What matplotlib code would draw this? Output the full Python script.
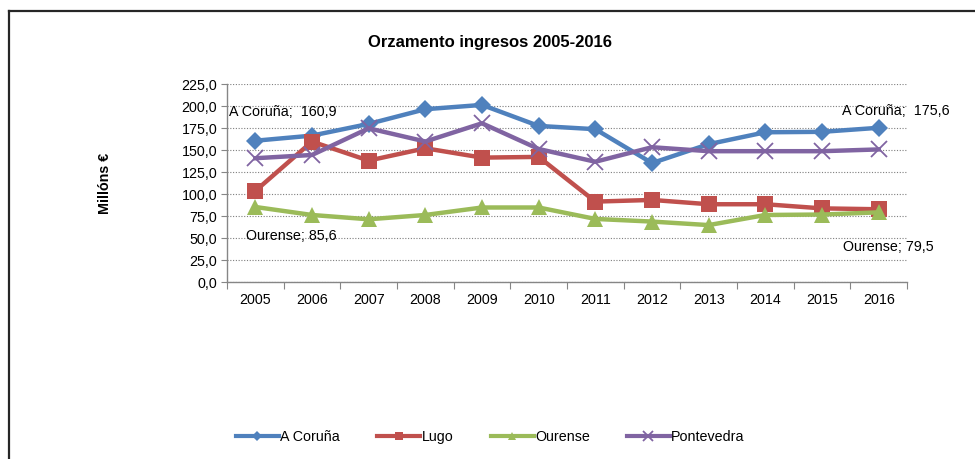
import numpy as np
import matplotlib.pyplot as plt
from matplotlib.lines import Line2D

plt.rcParams['font.family'] = ['Liberation Sans', 'DejaVu Sans']

# Data (millóns €)
years = ['2005', '2006', '2007', '2008', '2009', '2010',
         '2011', '2012', '2013', '2014', '2015', '2016']
coruna = [160.9, 166.7, 180.0, 196.7, 201.6, 177.7, 174.0, 135.5, 157.0, 170.5, 171.0, 175.6]
lugo = [103.8, 159.9, 138.3, 152.3, 141.7, 142.5, 91.7, 93.6, 88.7, 88.7, 84.0, 83.0]
ourense = [85.6, 76.5, 71.6, 76.5, 85.0, 85.0, 72.0, 69.0, 65.0, 76.5, 77.0, 79.5]
pontevedra = [141.0, 144.7, 175.0, 160.0, 180.7, 151.5, 137.0, 153.5, 149.0, 149.0, 149.0, 151.0]

series = ['A Coruña', 'Lugo', 'Ourense', 'Pontevedra']
colors = ['#4F81BD', '#C0504D', '#9BBB59', '#8064A2']
markers = ['D', 's', '^', 'x']
msizes = [9, 11, 11, 12]

fs = 10.3

fig = plt.figure(figsize=(9.75, 4.59), dpi=100)
ax = fig.add_axes([0.2328, 0.385, 0.6975, 0.4313])

x = np.arange(len(years))
handles = []
for vals, name, c, m, ms in zip([coruna, lugo, ourense, pontevedra],
                                series, colors, markers, msizes):
    mew = 1.3 if m == 'x' else 0
    ax.plot(x, vals, color=c, lw=3.2, marker=m, markersize=ms,
            markeredgewidth=mew, markeredgecolor=c, zorder=3)
    handles.append(Line2D([0], [0], color=c, lw=3, marker=m,
                          markersize=ms * 0.55, markeredgewidth=mew,
                          markeredgecolor=c, label=name))

ax.set_xlim(-0.5, len(years) - 0.5)
ax.set_ylim(0, 225)
ax.set_yticks(np.arange(0, 226, 25))
ax.set_yticklabels([f'{v:.1f}'.replace('.', ',') for v in np.arange(0, 226, 25)],
                   fontsize=fs)
ax.set_xticks(np.arange(-0.5, len(years), 1.0))
ax.set_xticklabels([])
ax.set_xticks(x, minor=True)
ax.set_xticklabels(years, minor=True, fontsize=fs)
ax.tick_params(axis='x', which='major', length=5, color='#868686')
ax.tick_params(axis='x', which='minor', length=0, pad=8)
ax.tick_params(axis='y', length=4, color='#868686', pad=3)

ax.yaxis.grid(True, linestyle=(0, (1, 1.5)), color='#7f7f7f', lw=0.8)
ax.set_axisbelow(True)
for s in ['top', 'right']:
    ax.spines[s].set_visible(False)
for s in ['left', 'bottom']:
    ax.spines[s].set_color('#868686')
    ax.spines[s].set_linewidth(1.0)

ax.set_ylabel('Millóns €', fontsize=fs, fontweight='bold', labelpad=50)

# data labels
ax.annotate('A Coruña;  ' + f'{coruna[0]:.1f}'.replace('.', ','), (0, coruna[0]),
            xytext=(20, 21), textcoords='offset points', ha='center', va='center',
            fontsize=fs)
ax.annotate('Ourense; ' + f'{ourense[0]:.1f}'.replace('.', ','), (0, ourense[0]),
            xytext=(26, -21), textcoords='offset points', ha='center', va='center',
            fontsize=fs)
ax.annotate('A Coruña;  ' + f'{coruna[-1]:.1f}'.replace('.', ','), (11, coruna[-1]),
            xytext=(12, 12), textcoords='offset points', ha='center', va='center',
            fontsize=fs)
ax.annotate('Ourense; ' + f'{ourense[-1]:.1f}'.replace('.', ','), (11, ourense[-1]),
            xytext=(7, -25), textcoords='offset points', ha='center', va='center',
            fontsize=fs)

fig.text(0.503, 0.908, 'Orzamento ingresos 2005-2016', ha='center', va='center',
         fontsize=12, fontweight='bold')

fig.legend(handles=handles, loc='center', bbox_to_anchor=(0.503, 0.048), ncol=4,
           frameon=False, fontsize=fs, handlelength=3.0, handletextpad=0.1,
           columnspacing=2.6)

# chart frame (left and top edges visible)
fig.add_artist(Line2D([0.0092, 0.0092], [0, 0.9765], color='#262626', lw=1.6,
                      transform=fig.transFigure))
fig.add_artist(Line2D([0.0092, 1.0], [0.9765, 0.9765], color='#262626', lw=1.6,
                      transform=fig.transFigure))

fig.savefig('out.png', dpi=100)
